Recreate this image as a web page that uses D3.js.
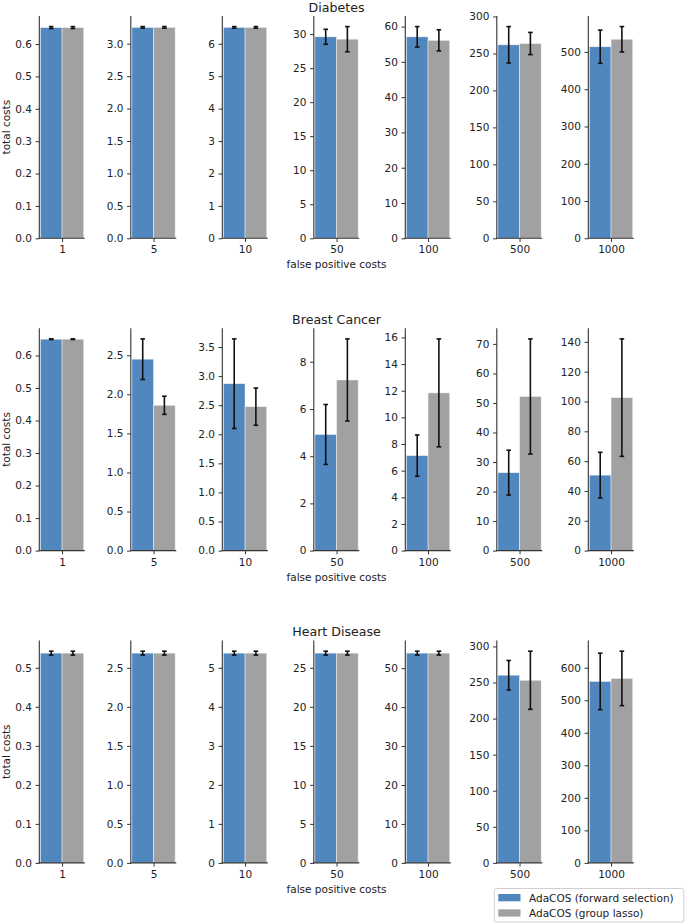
<!DOCTYPE html>
<html>
<head>
<meta charset="utf-8">
<script src="https://cdn.jsdelivr.net/npm/d3@7"></script>
<style>
  html, body { margin: 0; padding: 0; background: #fff; }
  svg { display: block; font-family: "DejaVu Sans", sans-serif; }
</style>
</head>
<body>
<svg id="chart" width="685" height="924"></svg>
<script>
// ---------------- data ----------------
const categories = ["1", "5", "10", "50", "100", "500", "1000"];
const datasets = ["Diabetes", "Breast Cancer", "Heart Disease"];
const seriesNames = ["AdaCOS (forward selection)", "AdaCOS (group lasso)"];

const diabetesFS    = [0.651, 3.252, 6.505, 29.6, 57.1, 261.7, 514.0];
const diabetesFSErr = [0.003, 0.012, 0.025, 1.1, 2.9, 24.6, 44.5];
const diabetesGL    = [0.651, 3.252, 6.505, 29.25, 56.1, 263.4, 534.0];
const diabetesGLErr = [0.003, 0.012, 0.025, 1.85, 3.0, 15.0, 34.0];

const breastFS    = [0.650, 2.45, 2.87, 4.92, 7.13, 26.4, 50.6];
const breastFSErr = [0.001, 0.26, 0.77, 1.27, 1.55, 7.6, 15.3];
const breastGL    = [0.650, 1.86, 2.475, 7.23, 11.84, 52.2, 102.6];
const breastGLErr = [0.001, 0.116, 0.32, 1.74, 4.05, 19.5, 39.4];

const heartFS    = [0.5376, 2.688, 5.376, 26.88, 53.85, 260.1, 557.9];
const heartFSErr = [0.005, 0.025, 0.05, 0.25, 0.5, 20.4, 86.8];
const heartGL    = [0.5376, 2.688, 5.376, 26.88, 53.85, 253.1, 567.1];
const heartGLErr = [0.005, 0.025, 0.05, 0.25, 0.5, 40.3, 83.7];

const diabetesTicks = [
  [0, 0.1, 0.2, 0.3, 0.4, 0.5, 0.6],
  [0, 0.5, 1.0, 1.5, 2.0, 2.5, 3.0],
  [0, 1, 2, 3, 4, 5, 6],
  [0, 5, 10, 15, 20, 25, 30],
  [0, 10, 20, 30, 40, 50, 60],
  [0, 50, 100, 150, 200, 250, 300],
  [0, 100, 200, 300, 400, 500]
];
const breastTicks = [
  [0, 0.1, 0.2, 0.3, 0.4, 0.5, 0.6],
  [0, 0.5, 1.0, 1.5, 2.0, 2.5],
  [0, 0.5, 1.0, 1.5, 2.0, 2.5, 3.0, 3.5],
  [0, 2, 4, 6, 8],
  [0, 2, 4, 6, 8, 10, 12, 14, 16],
  [0, 10, 20, 30, 40, 50, 60, 70],
  [0, 20, 40, 60, 80, 100, 120, 140]
];
const heartTicks = [
  [0, 0.1, 0.2, 0.3, 0.4, 0.5],
  [0, 0.5, 1.0, 1.5, 2.0, 2.5],
  [0, 1, 2, 3, 4, 5],
  [0, 5, 10, 15, 20, 25],
  [0, 10, 20, 30, 40, 50],
  [0, 50, 100, 150, 200, 250, 300],
  [0, 100, 200, 300, 400, 500, 600]
];
// decimals shown on each panel's tick labels
const diabetesDecimals = [1, 1, 0, 0, 0, 0, 0];
const breastDecimals   = [1, 1, 1, 0, 0, 0, 0];
const heartDecimals    = [1, 1, 0, 0, 0, 0, 0];

const rows = [
  { name: datasets[0], fs: diabetesFS, fsErr: diabetesFSErr, gl: diabetesGL, glErr: diabetesGLErr, ticks: diabetesTicks, dec: diabetesDecimals },
  { name: datasets[1], fs: breastFS, fsErr: breastFSErr, gl: breastGL, glErr: breastGLErr, ticks: breastTicks, dec: breastDecimals },
  { name: datasets[2], fs: heartFS, fsErr: heartFSErr, gl: heartGL, glErr: heartGLErr, ticks: heartTicks, dec: heartDecimals }
];

// ---------------- layout ----------------
const colors = ["#4f87be", "#a1a1a1"];
const panelLeft0 = 39.3, panelStep = 91.5, panelW = 45.5;
const rowTop0 = 16.0, rowStep = 312.3, panelH = 222.3;
const tickLen = 3.7, tickPad = 3.7;
const fs = 10.5;
const axisColor = "#333";

const svg = d3.select("#chart");

const seriesKeys = ["fs", "gl"];

rows.forEach((row, r) => {
  const top = rowTop0 + r * rowStep;
  const bottom = top + panelH;

  categories.forEach((cat, c) => {
    const left = panelLeft0 + c * panelStep;
    const right = left + panelW;
    const vals = [row.fs[c], row.gl[c]];
    const errs = [row.fsErr[c], row.glErr[c]];
    const ymax = d3.max(vals.map((v, i) => v + errs[i])) * 1.05;

    const x = d3.scaleBand().domain(seriesKeys).range([left, right])
      .paddingInner(0).paddingOuter(0.05);
    const y = d3.scaleLinear().domain([0, ymax]).range([bottom, top]);

    const g = svg.append("g");

    // bars
    g.selectAll("rect.bar").data(seriesKeys).enter().append("rect")
      .attr("class", "bar")
      .attr("x", k => x(k))
      .attr("width", x.bandwidth())
      .attr("y", (k, i) => y(vals[i]))
      .attr("height", (k, i) => y(0) - y(vals[i]))
      .attr("fill", (k, i) => colors[i])
      .attr("stroke", "rgba(255,255,255,0.55)")
      .attr("stroke-width", 0.8);

    // error bars
    seriesKeys.forEach((k, i) => {
      const cx = x(k) + x.bandwidth() / 2;
      const y1 = y(vals[i] + errs[i]), y2 = y(vals[i] - errs[i]);
      g.append("line").attr("x1", cx).attr("x2", cx).attr("y1", y1).attr("y2", y2)
        .attr("stroke", "#111").attr("stroke-width", 1.6);
      [y1, y2].forEach(yy => {
        g.append("line").attr("x1", cx - 2.3).attr("x2", cx + 2.3).attr("y1", yy).attr("y2", yy)
          .attr("stroke", "#111").attr("stroke-width", 1.6);
      });
    });

    // y axis
    const yAxis = d3.axisLeft(y).tickValues(row.ticks[c])
      .tickFormat(d3.format("." + row.dec[c] + "f"))
      .tickSizeInner(tickLen).tickSizeOuter(0).tickPadding(tickPad);
    const ya = svg.append("g").attr("transform", `translate(${left},0)`).call(yAxis);
    ya.select(".domain").remove();
    ya.selectAll(".tick line").attr("stroke", axisColor).attr("stroke-width", 1);
    ya.selectAll(".tick text").attr("fill", "#222").attr("font-size", fs)
      .attr("font-family", "DejaVu Sans");
    svg.append("line").attr("x1", left).attr("x2", left).attr("y1", top).attr("y2", bottom + 0.5)
      .attr("stroke", axisColor).attr("stroke-width", 1.1);

    // x axis
    const xc = d3.scalePoint().domain([cat]).range([left, right]).padding(0.5);
    const xAxis = d3.axisBottom(xc).tickSizeInner(tickLen).tickSizeOuter(0).tickPadding(tickPad);
    const xa = svg.append("g").attr("transform", `translate(0,${bottom})`).call(xAxis);
    xa.select(".domain").remove();
    xa.selectAll(".tick line").attr("stroke", axisColor).attr("stroke-width", 1);
    xa.selectAll(".tick text").attr("fill", "#222").attr("font-size", fs)
      .attr("font-family", "DejaVu Sans").attr("dy", "0.72em");
    svg.append("line").attr("x1", left - 0.5).attr("x2", right).attr("y1", bottom).attr("y2", bottom)
      .attr("stroke", axisColor).attr("stroke-width", 1.1);

    if (c === 3) {
      const cx = (left + right) / 2;
      svg.append("text").attr("x", cx).attr("y", top - 4.2)
        .attr("text-anchor", "middle").attr("font-size", 12.6).attr("fill", "#222")
        .text(row.name);
      svg.append("text").attr("x", cx).attr("y", bottom + 30)
        .attr("text-anchor", "middle").attr("font-size", fs).attr("fill", "#222")
        .text("false positive costs");
    }
    if (c === 0) {
      const cy = (top + bottom) / 2;
      svg.append("text").attr("transform", `translate(9.5,${cy}) rotate(-90)`)
        .attr("text-anchor", "middle").attr("font-size", fs).attr("fill", "#222")
        .text("total costs");
    }
  });
});

// ---------------- legend ----------------
const leg = svg.append("g");
leg.append("rect").attr("x", 494.3).attr("y", 888.5).attr("width", 189.5).attr("height", 33.5)
  .attr("rx", 2).attr("fill", "white").attr("stroke", "#d0d0d0").attr("stroke-width", 1);
seriesNames.forEach((name, i) => {
  const yy = 894 + i * 15.3;
  leg.append("rect").attr("x", 498.3).attr("y", yy).attr("width", 22.2).attr("height", 7.3)
    .attr("fill", colors[i]);
  leg.append("text").attr("x", 529).attr("y", yy + 7.6).attr("font-size", fs).attr("fill", "#222")
    .text(name);
});
</script>
</body>
</html>
